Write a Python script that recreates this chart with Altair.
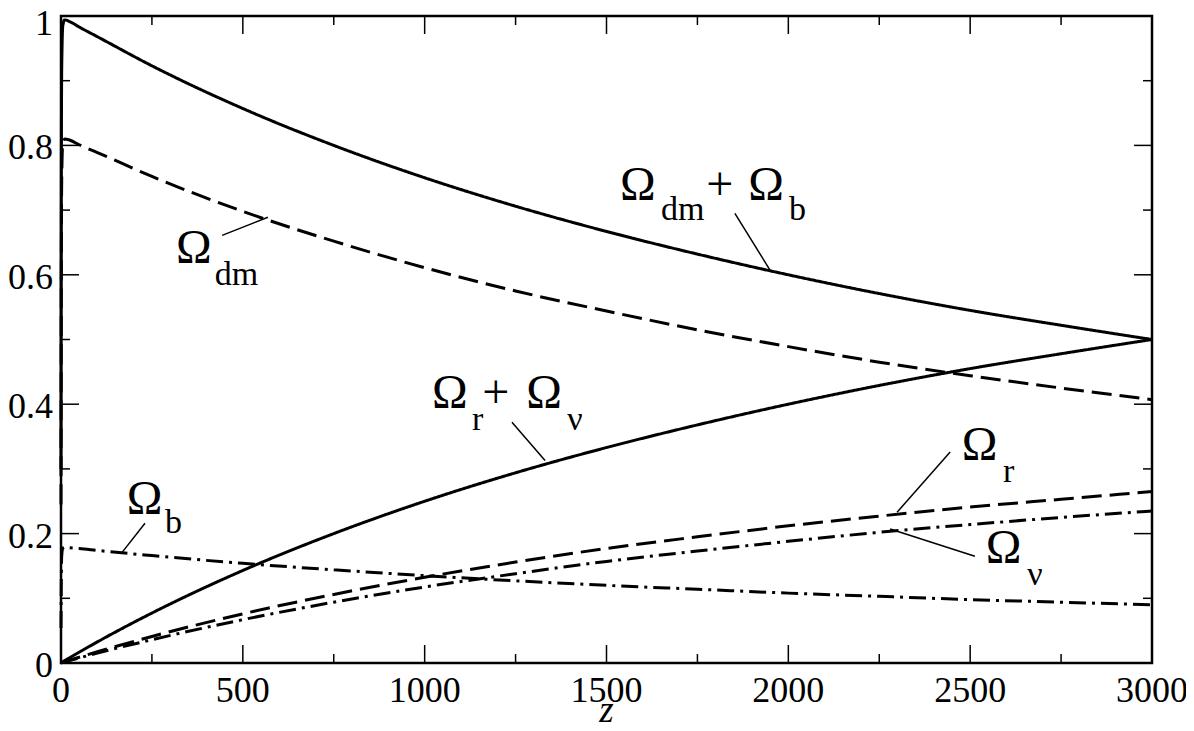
import pandas as pd
import altair as alt

# redshift grid and density parameters
z_vals = [0, 1, 2, 5, 10, 25, 50, 100, 250, 500, 750, 1000, 1250, 1500,
          1750, 2000, 2250, 2500, 2750, 3000]
om_matter = [0.30, 0.77, 0.92, 0.985, 0.994, 0.991, 0.983, 0.968, 0.923, 0.857,
             0.800, 0.750, 0.706, 0.667, 0.632, 0.600, 0.571, 0.545, 0.522, 0.500]
om_dm = [0.245, 0.628, 0.750, 0.803, 0.810, 0.808, 0.801, 0.789, 0.752, 0.698,
         0.652, 0.611, 0.575, 0.544, 0.515, 0.489, 0.465, 0.444, 0.425, 0.407]
om_b = [0.054, 0.139, 0.166, 0.177, 0.179, 0.178, 0.177, 0.174, 0.166, 0.154,
        0.144, 0.135, 0.127, 0.120, 0.114, 0.108, 0.103, 0.098, 0.094, 0.090]
om_rad = [0.0001, 0.0005, 0.001, 0.002, 0.0037, 0.0086, 0.0167, 0.0326, 0.0772, 0.143,
          0.200, 0.250, 0.294, 0.333, 0.368, 0.400, 0.429, 0.455, 0.478, 0.500]
om_r = [0.0001, 0.0003, 0.0005, 0.001, 0.002, 0.0046, 0.0089, 0.0173, 0.041, 0.076,
        0.106, 0.1325, 0.156, 0.177, 0.195, 0.212, 0.227, 0.241, 0.253, 0.265]
om_nu = [0.0, 0.0002, 0.0005, 0.001, 0.0017, 0.004, 0.0078, 0.0153, 0.036, 0.067,
         0.094, 0.1175, 0.138, 0.157, 0.173, 0.188, 0.202, 0.214, 0.225, 0.235]

series_names = ["matter", "dm", "b", "rad", "r", "nu"]
series_style = ["solid", "dashed", "dashdot", "solid", "dashed", "dashdot"]

# tick positions
x_major = [0, 500, 1000, 1500, 2000, 2500, 3000]
x_minor = [250, 750, 1250, 1750, 2250, 2750]
y_major = [0, 0.2, 0.4, 0.6, 0.8, 1.0]
y_minor = [0.1, 0.3, 0.5, 0.7, 0.9]
x_title = "z"

# labels: big Omega glyphs / plus signs, and subscripts (left edge z, baseline omega)
big_text = ["Ω", "+", "Ω", "Ω", "+", "Ω", "Ω", "Ω", "Ω", "Ω"]
big_z = [1537, 1774, 1890, 1020, 1158, 1279, 181, 316, 2477, 2543]
big_om = [0.715, 0.715, 0.715, 0.394, 0.394, 0.394, 0.231, 0.618, 0.313, 0.154]
sub_text = ["dm", "b", "r", "ν", "b", "dm", "r", "ν"]
sub_z = [1650, 2002, 1130, 1392, 286, 423, 2590, 2657]
sub_om = [0.684, 0.684, 0.360, 0.360, 0.2005, 0.584, 0.279, 0.120]

# leader lines from labels to curves
lead_z = [1853, 1240, 231, 443, 2445, 2280]
lead_om = [0.695, 0.372, 0.216, 0.661, 0.326, 0.207]
lead_z2 = [1950, 1331, 168, 569, 2299, 2513]
lead_om2 = [0.607, 0.313, 0.171, 0.689, 0.233, 0.165]

W, H = 1091, 647
FONT = "Liberation Serif"

curves = pd.DataFrame({"z": z_vals, "matter": om_matter, "dm": om_dm, "b": om_b,
                       "rad": om_rad, "r": om_r, "nu": om_nu})
long_df = curves.melt("z", var_name="series", value_name="om")
long_df["style"] = long_df["series"].map(dict(zip(series_names, series_style)))

xs = alt.Scale(domain=[0, 3000], nice=False, zero=False)
ys = alt.Scale(domain=[0, 1], nice=False, zero=False)

lines = alt.Chart(long_df).mark_line(color="black", strokeWidth=3, interpolate="monotone").encode(
    alt.X("z:Q", scale=xs, axis=None),
    alt.Y("om:Q", scale=ys, axis=None),
    alt.StrokeDash("style:N", legend=None,
                   scale=alt.Scale(domain=["solid", "dashed", "dashdot"],
                                   range=[[1, 0], [20, 8], [17, 6, 3, 6]])),
    detail="series:N",
)

leaders = alt.Chart(pd.DataFrame({"z": lead_z, "om": lead_om, "z2": lead_z2, "om2": lead_om2})
                    ).mark_rule(color="black", strokeWidth=1.5).encode(
    alt.X("z:Q", scale=xs, axis=None),
    alt.Y("om:Q", scale=ys, axis=None),
    x2="z2:Q",
    y2="om2:Q",
)

big = alt.Chart(pd.DataFrame({"t": big_text, "z": big_z, "om": big_om})).mark_text(
    align="left", baseline="alphabetic", font=FONT, fontSize=48, color="black"
).encode(
    alt.X("z:Q", scale=xs, axis=None),
    alt.Y("om:Q", scale=ys, axis=None),
    text="t:N",
)

subs = alt.Chart(pd.DataFrame({"t": sub_text, "z": sub_z, "om": sub_om})).mark_text(
    align="left", baseline="alphabetic", font=FONT, fontSize=34, color="black"
).encode(
    alt.X("z:Q", scale=xs, axis=None),
    alt.Y("om:Q", scale=ys, axis=None),
    text="t:N",
)

# inward ticks on all four sides
def x_ticks(vals, length):
    base = alt.Chart(pd.DataFrame({"z": vals})).mark_rule(color="black", strokeWidth=1.5)
    bottom = base.encode(alt.X("z:Q", scale=xs, axis=None), y=alt.value(H), y2=alt.value(H - length))
    top = base.encode(alt.X("z:Q", scale=xs, axis=None), y=alt.value(0), y2=alt.value(length))
    return bottom + top

def y_ticks(vals, length):
    base = alt.Chart(pd.DataFrame({"om": vals})).mark_rule(color="black", strokeWidth=1.5)
    left = base.encode(alt.Y("om:Q", scale=ys, axis=None), x=alt.value(0), x2=alt.value(length))
    right = base.encode(alt.Y("om:Q", scale=ys, axis=None), x=alt.value(W), x2=alt.value(W - length))
    return left + right

# tick labels and axis title
x_labels = alt.Chart(pd.DataFrame({"z": x_major})).mark_text(
    align="center", baseline="alphabetic", font=FONT, fontSize=36, color="black"
).encode(
    alt.X("z:Q", scale=xs, axis=None),
    y=alt.value(H + 39),
    text=alt.Text("z:Q", format="d"),
)

def y_label_layer(vals, dy):
    return alt.Chart(pd.DataFrame({"om": vals})).mark_text(
        align="right", baseline="middle", font=FONT, fontSize=36, color="black", dy=dy
    ).encode(
        alt.Y("om:Q", scale=ys, axis=None),
        x=alt.value(-8),
        text=alt.Text("om:Q", format="~g"),
    )

# the top label sits a little lower so it stays inside the frame
y_labels = y_label_layer(y_major[:-1], 3) + y_label_layer(y_major[-1:], 8)

title = alt.Chart(pd.DataFrame({"t": [x_title]})).mark_text(
    align="center", baseline="alphabetic", font=FONT, fontSize=37, fontStyle="italic", color="black"
).encode(
    x=alt.value(W / 2),
    y=alt.value(H + 59),
    text="t:N",
)

chart = alt.layer(
    lines, leaders, big, subs,
    x_ticks(x_major, 18), x_ticks(x_minor, 9),
    y_ticks(y_major, 18), y_ticks(y_minor, 9),
    x_labels, y_labels, title,
).properties(
    width=W, height=H,
    autosize=alt.AutoSizeParams(type="none"),
    padding={"left": 53, "top": 8, "right": 34, "bottom": 60},
).configure_view(stroke="black", strokeWidth=2.5)

chart.save("out.html", embed_options={"renderer": "svg", "actions": False})
